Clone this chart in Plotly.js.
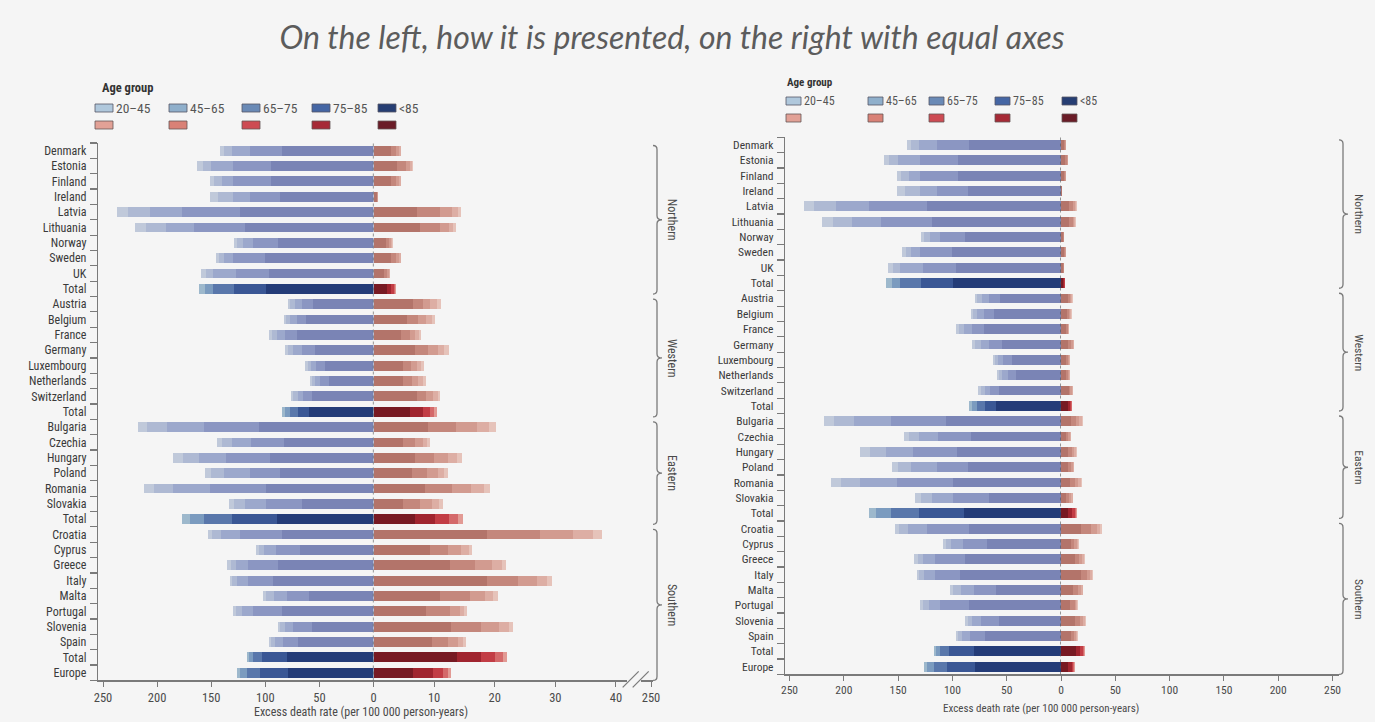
<!DOCTYPE html>
<html><head><meta charset="utf-8">
<script src="https://cdn.plot.ly/plotly-3.0.1.min.js"></script>
<style>html,body{margin:0;padding:0;background:#f5f5f5;} #chart{width:1375px;height:722px;}</style>
</head><body><div id="chart"></div>
<script>
// ---------- DATA ----------
const categories = ["Denmark","Estonia","Finland","Ireland","Latvia","Lithuania","Norway","Sweden","UK","Total",
  "Austria","Belgium","France","Germany","Luxembourg","Netherlands","Switzerland","Total",
  "Bulgaria","Czechia","Hungary","Poland","Romania","Slovakia","Total",
  "Croatia","Cyprus","Greece","Italy","Malta","Portugal","Slovenia","Spain","Total","Europe"];
const ageGroups = ["20–45","45–65","65–75","75–85","<85"];
const regions = ["Northern","Western","Eastern","Southern"];
const regionFirstRow = [0,10,18,25];
const regionLastRow = [9,17,24,34];

// left (blue) side, per age group
const blue85 = [85,95,95,86,123,119,88,100,97,99, 56,62,71,54,45,41,57,60, 106,83,96,86,99,66,89, 85,68,88,93,60,85,57,70,80,79];
const blue75 = [29,35,35,28,54,47,23,30,30,30, 10,9,11,12,8,8,8,10, 51,30,40,28,52,33,42, 38,22,28,23,20,26,17,14,23,26];
const blue65 = [17,20,10,16,30,26,10,8,21,19, 7,6,7,8,5,5,5,7, 34,18,25,24,34,20,26, 18,11,11,10,12,11,8,7,8,12];
const blue45 = [7,8,7,14,20,18,5,5,7,8, 4,4,5,5,3,3,4,5, 18,9,15,12,18,10,13, 8,5,5,5,7,5,4,4,4,6];
const blue20 = [3.5,5,4,7,10,10,3,3,4,5, 2,2,3,3,2,2,2,3, 9,5,9,6,9,5,7, 4,2.5,3,2,3,3,2.5,1.5,2,3];
// right (red) side, per age group
const red85 = [2.9,3.8,2.9,0.5,7.1,7.6,2.0,2.9,1.8,2.2, 6.5,5.6,4.6,6.8,4.8,4.8,7.1,6.0, 9.0,4.8,6.8,6.3,8.5,4.8,6.8, 18.8,9.3,12.6,18.8,11.0,8.6,12.8,9.6,13.7,6.5];
const red75 = [0.8,1.6,0.8,0.1,3.9,3.4,0.6,0.8,0.5,0.7, 1.6,1.8,1.4,2.2,1.4,1.5,1.5,2.1, 4.6,2.0,3.2,2.5,4.4,2.8,3.3, 8.7,3.0,4.2,5.0,5.0,4.0,4.9,2.7,4.0,3.3];
const red65 = [0.5,0.6,0.5,0.1,1.9,1.4,0.3,0.5,0.3,0.4, 1.3,1.3,0.9,1.6,1.0,1.1,1.2,1.2, 3.4,1.3,2.3,1.8,3.2,2.0,2.4, 5.5,2.2,2.8,3.2,2.4,1.6,3.0,1.6,2.4,1.6];
const red45 = [0.3,0.3,0.3,0.05,1.0,0.8,0.2,0.3,0.1,0.3, 1.0,0.9,0.6,1.1,0.7,0.7,0.8,0.7, 2.1,0.8,1.5,1.1,2.1,1.2,1.5, 3.2,1.2,1.6,1.7,1.4,0.8,1.6,0.9,1.3,0.9];
const red20 = [0.1,0.2,0.1,0.05,0.5,0.4,0.1,0.1,0.1,0.1, 0.7,0.6,0.3,0.7,0.4,0.5,0.4,0.4, 1.1,0.5,0.8,0.6,1.1,0.7,0.8, 1.5,0.5,0.7,0.8,0.7,0.4,0.7,0.5,0.6,0.5];

const leftTicksNeg = [250,200,150,100,50,0];
const leftTicksPos = [10,20,30,40];
const leftTickBreak = [250];
const rightTicksNeg = [250,200,150,100,50,0];
const rightTicksPos = [50,100,150,200,250];
const axisTitle = "Excess death rate (per 100 000 person-years)";
const mainTitle = "On the left, how it is presented, on the right with equal axes";

// ---------- STYLE ----------
const W = 1375, H = 722;
const fx = p => p / W, fy = p => 1 - p / H;
const FONT = "'Liberation Sans Narrow', 'Roboto Condensed', 'Liberation Sans', sans-serif";
const TXT = '#4a4a4a', LINE = '#7a7a7a';
// inner (85+) -> outer (20-45)
const countryBlue = ['#7a84b5','#8b96c2','#9ca8cc','#aeb9d3','#c0c9da'];
const totalBlue   = ['#243c78','#3a5795','#5977ab','#7b9bbf','#9db8cc'];
const countryRed  = ['#b3746a','#c4877c','#d29b90','#ddaea4','#e6c3ba'];
const totalRed    = ['#771a23','#a0252f','#c23d45','#d4696a','#e29a94'];
const legendBlue = ['#b0c8dc','#8fafcb','#6a8ab6','#4566a4','#263e73']; // 20-45 .. <85
const legendRed  = ['#e2a196','#d98176','#cd4b53','#a62a36','#6a1c27'];

const blueSets = [blue85, blue75, blue65, blue45, blue20];
const redSets  = [red85, red75, red65, red45, red20];
const rows = categories.map((c, i) => i);
const isTot = c => c === 'Total' || c === 'Europe';
const cols = (pal, tpal, g) => categories.map(c => isTot(c) ? tpal[g] : pal[g]);

// geometry
const L = {top:143.0, bot:680.4, yline:98, zero:373.5, pxNeg:1.082, pxPos:6.06, posEnd:627, brkStart:641, brkEnd:653, brace:657};
const R = {top:137.3, bot:674.4, yline:785, zero:1061, px:1.086, end:1339, brace:1343};
const N = categories.length;

const traces = [];
for (let g = 0; g < 5; g++) {
  const base = {type:'bar', orientation:'h', y:rows, width:0.64, hoverinfo:'skip', showlegend:false};
  traces.push(Object.assign({}, base, {x:blueSets[g], xaxis:'x',  yaxis:'y',  name:'L'+g, marker:{color:cols(countryBlue,totalBlue,g), line:{width:0}}}));
  traces.push(Object.assign({}, base, {x:redSets[g],  xaxis:'x2', yaxis:'y',  name:'LR'+g, marker:{color:cols(countryRed,totalRed,g), line:{width:0}}}));
  traces.push(Object.assign({}, base, {x:blueSets[g], xaxis:'x3', yaxis:'y2', name:'R'+g, marker:{color:cols(countryBlue,totalBlue,g), line:{width:0}}}));
  traces.push(Object.assign({}, base, {x:redSets[g],  xaxis:'x4', yaxis:'y2', name:'RR'+g, marker:{color:cols(countryRed,totalRed,g), line:{width:0}}}));
}
// empty trace so the short axis segment after the break is drawn
traces.push({type:'scatter', mode:'markers', x:[], y:[], xaxis:'x5', yaxis:'y', hoverinfo:'skip', showlegend:false});

const xcommon = (fs) => ({showgrid:false, zeroline:false, showline:true, linecolor:LINE, linewidth:1.2,
  ticks:'outside', ticklen:5, tickcolor:LINE, tickwidth:1, tickmode:'array',
  tickfont:{family:FONT, size:fs, color:TXT}, fixedrange:true});
const ycommon = (fs) => ({showgrid:false, zeroline:false, showline:true, linecolor:LINE, linewidth:1.2,
  tickmode:'array', tickvals:rows, ticktext:categories, ticks:'', ticklabelstandoff:8,
  minor:{tick0:-0.5, dtick:1, ticks:'outside', ticklen:7, tickcolor:LINE, tickwidth:1.2, showgrid:false},
  tickfont:{family:FONT, size:fs, color:'#3a3a3a'}, range:[N-0.5,-0.5], fixedrange:true});

const layout = {
  width:W, height:H, margin:{l:0,r:0,t:0,b:0},
  paper_bgcolor:'#f5f5f5', plot_bgcolor:'rgba(0,0,0,0)',
  barmode:'stack', showlegend:false,
  title:{text:mainTitle, x:fx(672), xanchor:'center', y:fy(38), yanchor:'middle',
    font:{family:"Lato, 'Open Sans', sans-serif", size:32, color:'#5c5c5c', style:'italic'}},
  xaxis: Object.assign(xcommon(12.5), {domain:[fx(L.yline), fx(L.zero)], range:[(L.zero-L.yline)/L.pxNeg, 0], tickvals:leftTicksNeg, anchor:'y'}),
  xaxis2: Object.assign(xcommon(12.5), {domain:[fx(L.zero), fx(L.posEnd)], range:[0, (L.posEnd-L.zero)/L.pxPos], tickvals:leftTicksPos, anchor:'y'}),
  xaxis5: Object.assign(xcommon(12.5), {domain:[fx(L.brkStart), fx(L.brkEnd)], range:[240, 252], tickvals:leftTickBreak, anchor:'y'}),
  xaxis3: Object.assign(xcommon(11.5), {domain:[fx(R.yline), fx(R.zero)], range:[(R.zero-R.yline)/R.px, 0], tickvals:rightTicksNeg, anchor:'y2'}),
  xaxis4: Object.assign(xcommon(11.5), {domain:[fx(R.zero), fx(R.end)], range:[0, (R.end-R.zero)/R.px], tickvals:rightTicksPos, anchor:'y2'}),
  yaxis: Object.assign(ycommon(12), {domain:[fy(L.bot), fy(L.top)], anchor:'x'}),
  yaxis2: Object.assign(ycommon(11.5), {domain:[fy(R.bot), fy(R.top)], anchor:'x3'}),
  shapes:[], annotations:[]
};

// zero dotted lines
layout.shapes.push({type:'line', xref:'x', yref:'paper', x0:0, x1:0, y0:fy(L.bot), y1:fy(L.top), line:{color:'#555', width:1.2, dash:'dot'}, layer:'above'});
layout.shapes.push({type:'line', xref:'x3', yref:'paper', x0:0, x1:0, y0:fy(R.bot), y1:fy(R.top), line:{color:'#555', width:1.2, dash:'dot'}, layer:'above'});

// axis break slashes
[[622.7,687.3,638.7,671.3],[632.7,687.3,648.7,671.3]].forEach(s => {
  layout.shapes.push({type:'line', xref:'paper', yref:'paper', x0:fx(s[0]), y0:fy(s[1]), x1:fx(s[2]), y1:fy(s[3]), line:{color:LINE, width:1.2}});
});

// braces
const P = (x, y) => fx(x).toFixed(5) + ',' + fy(y).toFixed(5);
function brace(X, y0, y1, join, joinX) {
  const ym = (y0 + y1) / 2;
  let d = 'M ' + P(X-4, y0) + ' Q ' + P(X, y0) + ' ' + P(X, y0+4) +
          ' L ' + P(X, ym-4) + ' Q ' + P(X, ym) + ' ' + P(X+5, ym) +
          ' Q ' + P(X, ym) + ' ' + P(X, ym+4) + ' L ' + P(X, y1-4);
  if (join) d += ' Q ' + P(X, y1) + ' ' + P(joinX, y1);
  else d += ' Q ' + P(X, y1) + ' ' + P(X-4, y1);
  return {type:'path', xref:'paper', yref:'paper', path:d, line:{color:LINE, width:1.3}};
}
function addBraces(G, labelX, fs) {
  const step = (G.bot - G.top) / N;
  regions.forEach((r, k) => {
    const y0 = G.top + regionFirstRow[k]*step + 2.5;
    const last = k === regions.length - 1;
    const y1 = last ? G.bot : G.top + (regionLastRow[k]+1)*step - 2.5;
    layout.shapes.push(brace(G.braceX, y0, y1, last, G.joinX));
    layout.annotations.push({xref:'paper', yref:'paper', x:fx(labelX), y:fy((y0+y1)/2), text:r, showarrow:false,
      textangle:90, xanchor:'center', yanchor:'middle', font:{family:FONT, size:fs, color:TXT}});
  });
}
addBraces({top:L.top, bot:L.bot, braceX:L.brace, joinX:L.brkEnd}, 672, 12);
addBraces({top:R.top, bot:R.bot, braceX:R.brace, joinX:R.end}, 1359, 11.5);

// axis titles
layout.annotations.push({xref:'paper', yref:'paper', x:fx(361), y:fy(712), text:axisTitle, showarrow:false, xanchor:'center', yanchor:'middle', font:{family:FONT, size:12, color:TXT}});
layout.annotations.push({xref:'paper', yref:'paper', x:fx(1041), y:fy(708), text:axisTitle, showarrow:false, xanchor:'center', yanchor:'middle', font:{family:FONT, size:11, color:TXT}});

// custom legends
function addLegend(titleX, titleY, swX, swW, row1, row2, fs) {
  layout.annotations.push({xref:'paper', yref:'paper', x:fx(titleX), y:fy(titleY), text:'<b>Age group</b>', showarrow:false, xanchor:'left', yanchor:'middle', font:{family:FONT, size:fs-1, color:'#333'}});
  ageGroups.forEach((a, i) => {
    layout.shapes.push({type:'rect', xref:'paper', yref:'paper', x0:fx(swX[i]), x1:fx(swX[i]+swW), y0:fy(row1+8), y1:fy(row1), fillcolor:legendBlue[i], line:{color:'#556', width:0.8}});
    layout.shapes.push({type:'rect', xref:'paper', yref:'paper', x0:fx(swX[i]), x1:fx(swX[i]+swW), y0:fy(row2+8), y1:fy(row2), fillcolor:legendRed[i], line:{color:'#655', width:0.8}});
    layout.annotations.push({xref:'paper', yref:'paper', x:fx(swX[i]+swW+1), y:fy(row1+4), text:a, showarrow:false, xanchor:'left', yanchor:'middle', font:{family:FONT, size:fs, color:'#555'}});
  });
}
addLegend(100, 88, [95,169,242,312,378], 18, 104, 121, 13.5);
addLegend(785, 82, [786,868,929,995,1062], 15, 97, 114, 12);

Plotly.newPlot('chart', traces, layout, {displayModeBar:false, staticPlot:true});
</script></body></html>
